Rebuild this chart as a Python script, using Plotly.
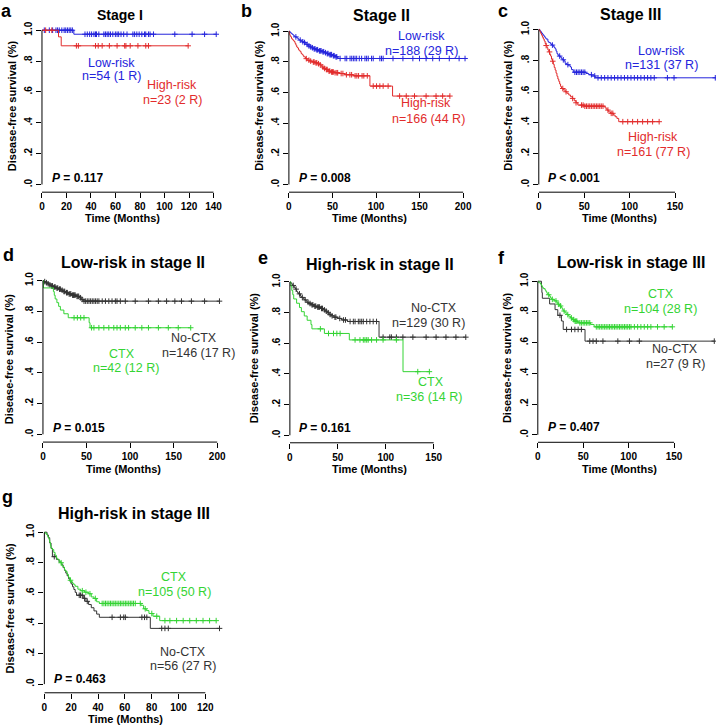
import plotly.graph_objects as go

W, H = 719, 727
BLUE = "#2424dc"
RED = "#e22c2c"
GREEN = "#34d434"
BLACK = "#333333"
FONT = "Liberation Sans, Arial, sans-serif"

# ---------------- data (months, survival) ----------------
# a: Stage I
a_low_t = [26]
a_low_s = [0.974]
a_low_c = [1.9, 6.0, 8.7, 11.4, 12.7, 14.1, 16.2, 18.1, 19.4, 20.8, 22.2, 23.5, 24.8, 35.1, 37.0, 38.9,
           40.5, 42.4, 43.7, 44.5, 46.4, 50.5, 51.8, 53.2, 54.5, 55.9, 57.8, 59.9, 61.3, 62.6, 64.5, 66.7,
           69.4, 74.2, 75.6, 77.4, 79.3, 81.5, 83.7, 84.7, 86.9, 88.2, 91.0, 108.4, 122.5, 132.7, 142.2]
a_high_t = [13.5, 15.7]
a_high_s = [0.957, 0.899]
a_high_c = [3.0, 8.0, 28.1, 29.7, 43.7, 45.9, 49.1, 55.0, 61.3, 67.5, 68.5, 72.0, 78.3, 84.7, 86.9, 119.3]

# b: Stage II
b_low_t = [1, 2, 3, 4, 5, 6, 7, 9, 10, 11, 12, 14, 15, 17, 19, 20, 22, 24, 26, 28, 31, 34, 38, 41, 43,
           46, 50, 53, 56]
b_low_s = [0.995, 0.989, 0.984, 0.979, 0.974, 0.968, 0.963, 0.958, 0.953, 0.947, 0.942, 0.937, 0.931,
           0.926, 0.920, 0.914, 0.904, 0.898, 0.892, 0.885, 0.879, 0.872, 0.866, 0.860, 0.854, 0.847,
           0.840, 0.833, 0.822]
b_low_c = [8, 13, 16, 18, 21, 23, 25, 27, 29, 30, 32, 33, 35, 36, 37, 39, 40, 42, 44, 45, 47, 48, 49, 51,
           52, 54, 55, 58.8, 64.5, 66.4, 70.2, 72.1, 74.0, 75.9, 77.8, 80.8, 83.5, 87.3, 89.2, 91.1, 94.9,
           96.8, 104.4, 106.3, 108.2, 119.5, 130.9, 142.3, 149.9, 157.5, 165.1, 172.7, 184.1, 195.4, 202.2]
b_high_t = [0.5, 1, 1.5, 2, 3, 4, 5, 6, 7, 8, 9, 10, 11, 12, 13, 14, 15, 16, 17, 19, 21, 24, 27, 30, 33,
            35, 37, 38, 40, 42, 45, 48, 52, 58, 64, 74, 93, 119]
b_high_s = [0.988, 0.976, 0.970, 0.964, 0.952, 0.946, 0.939, 0.933, 0.921, 0.909, 0.897, 0.891, 0.879,
            0.873, 0.867, 0.855, 0.849, 0.843, 0.833, 0.821, 0.811, 0.805, 0.799, 0.794, 0.788, 0.781,
            0.775, 0.766, 0.757, 0.750, 0.740, 0.734, 0.729, 0.724, 0.716, 0.709, 0.642, 0.577]
b_high_c = [20, 23, 25, 28, 29, 31, 32, 34, 36, 39, 41, 43, 44, 46, 47, 49, 50, 51, 53, 55, 56, 60, 62,
            66, 70, 72, 76, 78, 80, 84, 86, 90, 96.8, 100.6, 104.4, 108.2, 113.9, 127.1, 134.7, 144.2,
            157.5, 168.9, 176.5, 184.8]

# c: Stage III
c_low_t = [1, 2, 3, 4, 5, 6, 7, 8, 10, 11, 13, 14, 16, 17, 18, 19, 20, 21, 22, 24, 25, 26, 28, 29, 31,
           33, 35, 36, 38, 52, 55, 58, 62]
c_low_s = [0.992, 0.985, 0.977, 0.969, 0.962, 0.954, 0.946, 0.938, 0.923, 0.915, 0.907, 0.899, 0.891,
           0.883, 0.875, 0.860, 0.844, 0.836, 0.828, 0.820, 0.812, 0.804, 0.796, 0.781, 0.773, 0.765,
           0.757, 0.741, 0.724, 0.716, 0.708, 0.700, 0.688]
c_low_c = [15, 23, 27, 32, 39.7, 41.5, 43.3, 45.2, 47.0, 48.8, 50.7, 57.9, 61.6, 65.2, 68.8, 72.5, 76.1,
           79.7, 83.4, 87.0, 90.6, 94.3, 97.9, 101.5, 105.2, 108.8, 112.4, 116.2, 119.8, 123.4, 127.1,
           141.6, 148.9, 194.3]
c_high_t = [1, 2, 3, 4, 5, 6, 7, 8, 9, 10, 11, 12, 13, 14, 15, 16, 17, 18, 19, 20, 21, 22, 23, 24, 25,
            27, 29, 31, 33, 35, 37, 39, 41, 43, 50, 73, 75, 77, 79, 82, 84, 86, 88]
c_high_s = [0.988, 0.975, 0.963, 0.950, 0.938, 0.925, 0.909, 0.896, 0.882, 0.868, 0.855, 0.841, 0.828,
            0.808, 0.795, 0.775, 0.755, 0.738, 0.718, 0.698, 0.680, 0.665, 0.648, 0.632, 0.619, 0.610,
            0.598, 0.588, 0.577, 0.566, 0.555, 0.540, 0.527, 0.512, 0.505, 0.493, 0.480, 0.468, 0.459,
            0.448, 0.437, 0.426, 0.405]
c_high_c = [8.1, 11.8, 15.4, 26.4, 30.0, 37.3, 41, 47.0, 48.8, 50.7, 52.5, 54.3, 56.1, 57.9, 59.8, 61.6,
            63.4, 65.2, 67.1, 68.8, 70.7, 76.1, 79.7, 81.5, 92.5, 97.9, 103.3, 108.8, 114.3, 119.8, 125.3,
            132.5]

# d: Low-risk in stage II
d_no_t = [1, 3, 5, 7, 9, 12, 15, 18, 21, 23, 26, 29, 33, 38, 42, 44, 46]
d_no_s = [0.993, 0.986, 0.979, 0.972, 0.965, 0.958, 0.951, 0.944, 0.937, 0.929, 0.921, 0.913, 0.905,
          0.897, 0.888, 0.877, 0.866]
d_no_c = [2, 4, 6, 8, 10, 11, 13, 14, 16, 17, 19, 20, 22, 24, 25, 27, 28, 30, 31, 32, 34, 35, 36, 37, 39,
          40, 41, 43, 45, 47.1, 49.0, 50.9, 52.8, 54.7, 56.6, 58.5, 60.4, 62.3, 64.2, 68.0, 71.7, 75.6,
          79.3, 83.1, 85.0, 88.8, 94.5, 105.9, 121.1, 132.5, 141.9, 151.4, 159.0, 170.4, 185.5, 202.6]
d_ctx_t = [0.5, 12, 13, 14, 16, 18, 20, 24, 29, 53, 54]
d_ctx_s = [0.952, 0.928, 0.904, 0.880, 0.856, 0.832, 0.808, 0.784, 0.758, 0.726, 0.693]
d_ctx_c = [35.7, 39.5, 43.3, 47.1, 55.8, 58.5, 64.2, 69.9, 75.6, 81.3, 85.0, 88.8, 94.5, 98.3, 105.9,
           113.5, 121.1, 132.5, 143.9, 155.3, 169.6]

# e: High-risk in stage II
e_no_t = [1, 2, 3, 4, 5, 6, 7, 8, 9, 11, 12, 14, 15, 17, 18, 20, 22, 25, 28, 32, 35, 37, 39, 41, 43, 46,
          50, 54, 60, 93]
e_no_s = [0.992, 0.984, 0.977, 0.969, 0.961, 0.953, 0.938, 0.930, 0.922, 0.907, 0.899, 0.891, 0.883,
          0.875, 0.867, 0.859, 0.851, 0.842, 0.836, 0.827, 0.818, 0.809, 0.799, 0.788, 0.779, 0.770,
          0.762, 0.752, 0.742, 0.640]
e_no_c = [3.5, 6.5, 10, 13, 16, 19, 21, 23, 24, 26, 27, 29, 30, 31, 33, 34, 36, 38, 40, 42, 44, 47, 48,
          52, 56, 58, 62.8, 66.2, 68.0, 71.4, 73.1, 74.9, 76.6, 80.1, 83.5, 86.9, 90.4, 97.2, 104.2,
          105.9, 111.1, 117.9, 128.3, 142.1, 152.5, 162.8, 173.2, 183.5]
e_ctx_t = [1, 2, 3, 4, 7, 10, 12, 15, 18, 22, 23, 36, 62, 118]
e_ctx_s = [0.972, 0.944, 0.917, 0.889, 0.861, 0.833, 0.806, 0.778, 0.750, 0.722, 0.694, 0.664, 0.622,
           0.415]
e_ctx_c = [31.8, 40.3, 45.5, 49.0, 52.4, 68.0, 73.1, 76.6, 78.3, 80.1, 81.7, 85.2, 90.4, 97.2, 111.1,
           133.4, 145.5]

# f: Low-risk in stage III
f_ctx_t = [1, 3, 4, 5, 6, 8, 9, 10, 11, 13, 14, 15, 18, 21, 22, 24, 26, 27, 28, 30, 32, 34, 36, 38, 40,
           44, 58, 62]
f_ctx_s = [0.990, 0.981, 0.971, 0.961, 0.952, 0.942, 0.932, 0.922, 0.912, 0.902, 0.892, 0.882, 0.872,
           0.861, 0.850, 0.839, 0.828, 0.817, 0.806, 0.794, 0.783, 0.772, 0.761, 0.750, 0.740, 0.729,
           0.718, 0.703]
f_ctx_c = [12, 16, 20, 23, 25, 29, 33, 37, 39.5, 41, 42, 43, 46.3, 48.0, 49.9, 51.7, 53.5, 55.3, 57.2,
           64.4, 66.3, 68.1, 69.9, 71.7, 73.6, 75.3, 77.2, 79.0, 80.8, 82.6, 84.5, 86.2, 88.1, 90.0, 91.7,
           93.6, 95.4, 97.2, 99.0, 100.9, 102.6, 106.3, 109.9, 113.5, 117.2, 120.9, 124.5, 131.8, 139.1,
           148.1]
f_no_t = [4, 4.5, 5, 13, 19, 22, 26, 28, 52]
f_no_s = [0.963, 0.926, 0.889, 0.852, 0.815, 0.778, 0.741, 0.686, 0.610]
f_no_c = [24.4, 31.7, 37.1, 40.8, 44.4, 48.0, 57.2, 60.8, 64.4, 71.7, 88.1, 100.9, 111.8, 194.3]

# g: High-risk in stage III
g_no_t = [2, 3, 4, 5, 6, 9, 11, 13, 14, 15, 16, 17, 18, 19, 20, 21, 22, 23, 24, 29, 31, 33, 35, 37, 39,
          41, 79]
g_no_s = [0.982, 0.964, 0.929, 0.893, 0.839, 0.821, 0.803, 0.785, 0.767, 0.749, 0.731, 0.713, 0.695,
          0.677, 0.659, 0.641, 0.623, 0.604, 0.585, 0.565, 0.545, 0.524, 0.503, 0.482, 0.461, 0.440,
          0.367]
g_no_c = [7.4, 26, 27, 28.3, 30, 32, 50.5, 56.7, 59.2, 60.4, 72.7, 74.7, 76.4, 87.5, 89.9, 92.4, 130.6]
g_ctx_t = [1, 2, 2.5, 3, 3.5, 4, 4.5, 5, 6, 7, 8, 9, 10, 11, 12, 13, 14, 15, 16, 17, 18, 19, 20, 21, 22,
           23, 25, 27, 30, 33, 35, 37, 39, 41, 72, 74, 76, 78, 81, 86]
g_ctx_s = [0.990, 0.981, 0.971, 0.962, 0.952, 0.933, 0.914, 0.895, 0.886, 0.867, 0.848, 0.829, 0.819,
           0.809, 0.799, 0.780, 0.770, 0.751, 0.741, 0.722, 0.703, 0.684, 0.674, 0.664, 0.654, 0.644,
           0.625, 0.615, 0.605, 0.595, 0.574, 0.564, 0.542, 0.531, 0.519, 0.496, 0.484, 0.465, 0.447,
           0.418]
g_ctx_c = [12.5, 19.5, 28.3, 31, 34, 38, 43.1, 44.4, 45.6, 46.8, 48.1, 49.3, 50.5, 51.8, 52.9, 54.2,
           55.5, 56.7, 57.9, 59.2, 60.4, 61.6, 62.9, 64.1, 65.3, 66.5, 67.8, 71.5, 75.2, 80.1, 83.8, 89.9,
           93.6, 98.6, 103.5, 108.4, 113.3, 118.3, 123.2, 128.1]

# ticks / labels
Y_TICKS = [0, 0.2, 0.4, 0.6, 0.8, 1.0]
Y_TICK_LABELS = [".0", ".2", ".4", ".6", ".8", "1.0"]
a_xticks = [0, 20, 40, 60, 80, 100, 120, 140]
b_xticks = [0, 50, 100, 150, 200]
c_xticks = [0, 50, 100, 150]
d_xticks = [0, 50, 100, 150, 200]
e_xticks = [0, 50, 100, 150]
f_xticks = [0, 50, 100, 150]
g_xticks = [0, 20, 40, 60, 80, 100, 120]
titles = ["Stage I", "Stage II", "Stage III", "Low-risk in stage II", "High-risk in stage II",
          "Low-risk in stage III", "High-risk in stage III"]
pvals = ["= 0.117", "= 0.008", "&lt; 0.001", "= 0.015", "= 0.161", "= 0.407", "= 0.463"]
letters = ["a", "b", "c", "d", "e", "f", "g"]

# ---------------- layout geometry (pixels) ----------------
panels = [
    dict(x0=39.3, sc=1.2357, right=222, y1=28.3, y0=183.0, ax=190.7, ticks=a_xticks, tsize=14,
         letter=(3.7, 8.7), title=(117.7, 13.3), ytitle=(9.3, 104.2), xtitle=(120.5, 216.7), p=(47.7, 176.7),
         curves=[(a_low_t, a_low_s, a_low_c, BLUE), (a_high_t, a_high_s, a_high_c, RED)],
         labels=[("Low-risk", 109.5, 60.7, BLUE), ("n=54 (1 R)", 109.8, 74.5, BLUE),
                 ("High-risk", 170.8, 83.3, RED), ("n=23 (2 R)", 171.2, 98.0, RED)]),
    dict(x0=288.3, sc=0.8785, right=470, y1=29.3, y0=183.0, ax=190.7, ticks=b_xticks, tsize=16,
         letter=(245.8, 8.7), title=(382, 13.3), ytitle=(258.3, 104.0), xtitle=(369.7, 216.7), p=(296.7, 176.7),
         curves=[(b_low_t, b_low_s, b_low_c, BLUE), (b_high_t, b_high_s, b_high_c, RED)],
         labels=[("Low-risk", 422.5, 34.0, BLUE), ("n=188 (29 R)", 422.5, 49.3, BLUE),
                 ("High-risk", 426.7, 101.7, RED), ("n=166 (44 R)", 429.3, 117.3, RED)]),
    dict(x0=540.3, sc=0.916, right=719, y1=27.5, y0=183.0, ax=190.7, ticks=c_xticks, tsize=16,
         letter=(504.2, 8.7), title=(633, 13.0), ytitle=(509.3, 104.0), xtitle=(621.3, 216.7), p=(547.7, 176.7),
         curves=[(c_low_t, c_low_s, c_low_c, BLUE), (c_high_t, c_high_s, c_high_c, RED)],
         labels=[("Low-risk", 664.5, 49.0, BLUE), ("n=131 (37 R)", 664.0, 63.3, BLUE),
                 ("High-risk", 655.8, 135.0, RED), ("n=161 (77 R)", 655.5, 150.0, RED)]),
    dict(x0=40.3, sc=0.8785, right=222, y1=279.3, y0=433.5, ax=441.3, ticks=d_xticks, tsize=16,
         letter=(5.8, 253.7), title=(131.3, 261.7), ytitle=(5.8, 357.5), xtitle=(121.3, 468.3), p=(48.3, 426.7),
         curves=[(d_no_t, d_no_s, d_no_c, BLACK), (d_ctx_t, d_ctx_s, d_ctx_c, GREEN)],
         labels=[("No-CTX", 192.8, 337.3, BLACK), ("n=146 (17 R)", 197.5, 351.7, BLACK),
                 ("CTX", 119.5, 353.3, GREEN), ("n=42 (12 R)", 124.3, 367.3, GREEN)]),
    dict(x0=289.3, sc=0.9667, right=470, y1=280.7, y0=434.5, ax=442.0, ticks=e_xticks, tsize=16,
         letter=(262.5, 257.0), title=(380.3, 263.0), ytitle=(253.3, 357.0), xtitle=(370, 468.3), p=(296.7, 426.7),
         curves=[(e_no_t, e_no_s, e_no_c, BLACK), (e_ctx_t, e_ctx_s, e_ctx_c, GREEN)],
         labels=[("No-CTX", 435.0, 306.7, BLACK), ("n=129 (30 R)", 429.5, 321.7, BLACK),
                 ("CTX", 431.7, 380.7, GREEN), ("n=36 (14 R)", 430.0, 395.7, GREEN)]),
    dict(x0=539.3, sc=0.916, right=719, y1=280.0, y0=434.0, ax=441.5, ticks=f_xticks, tsize=16,
         letter=(502.8, 257.0), title=(633, 261.7), ytitle=(508.3, 357.0), xtitle=(621.3, 468.3), p=(547.7, 426.0),
         curves=[(f_no_t, f_no_s, f_no_c, BLACK), (f_ctx_t, f_ctx_s, f_ctx_c, GREEN)],
         labels=[("CTX", 663.3, 292.7, GREEN), ("n=104 (28 R)", 663.0, 308.3, GREEN),
                 ("No-CTX", 677.5, 348.3, BLACK), ("n=27 (9 R)", 677.8, 362.7, BLACK)]),
    dict(x0=41.7, sc=1.3525, right=222, y1=531.7, y0=684.0, ax=692.7, ticks=g_xticks, tsize=16,
         letter=(4.2, 496.7), title=(131.7, 513.3), ytitle=(6.7, 607.5), xtitle=(123.3, 719.3), p=(49.3, 679.3),
         curves=[(g_no_t, g_no_s, g_no_c, BLACK), (g_ctx_t, g_ctx_s, g_ctx_c, GREEN)],
         labels=[("CTX", 172.0, 576.7, GREEN), ("n=105 (50 R)", 173.0, 591.7, GREEN),
                 ("No-CTX", 181.3, 651.7, BLACK), ("n=56 (27 R)", 181.2, 666.0, BLACK)]),
]


def px(x):
    return x / W


def py(y):
    return 1 - y / H


def surv_at(t, times, survs):
    s = 1.0
    for ti, si in zip(times, survs):
        if ti <= t:
            s = si
        else:
            break
    return s


fig = go.Figure()
annotations = []
shapes = []
layout = {}

for i, p in enumerate(panels, 1):
    xn = "x" if i == 1 else f"x{i}"
    yn = "y" if i == 1 else f"y{i}"
    xk = "xaxis" if i == 1 else f"xaxis{i}"
    yk = "yaxis" if i == 1 else f"yaxis{i}"
    top = p["y1"] - 7
    unit = p["y0"] - p["y1"]
    ybot = -(p["ax"] - p["y0"]) / unit
    ytop = 1 + 7 / unit
    xmax = (p["right"] - p["x0"]) / p["sc"]

    for (t, s, c, col) in p["curves"]:
        end = max(c + t)
        xs = [0] + t + [end]
        ys = [1.0] + s + [s[-1]]
        fig.add_trace(go.Scatter(x=xs, y=ys, mode="lines", line=dict(color=col, width=1, shape="hv"),
                                 xaxis=xn, yaxis=yn, showlegend=False, hoverinfo="skip"))
        cy = [surv_at(ci, t, s) for ci in c]
        fig.add_trace(go.Scatter(x=c, y=cy, mode="markers",
                                 marker=dict(symbol="cross-thin-open", size=4, color=col,
                                             line=dict(color=col, width=1)),
                                 xaxis=xn, yaxis=yn, showlegend=False, hoverinfo="skip"))

    layout[xk] = dict(domain=[px(p["x0"]), px(p["right"])], range=[0, xmax], anchor=yn,
                      showgrid=False, zeroline=False, showline=False, ticks="outside", ticklen=5,
                      tickwidth=1, tickcolor="black", tickvals=p["ticks"],
                      ticktext=[str(v) for v in p["ticks"]],
                      tickfont=dict(family=FONT, size=10, color="black", weight="bold"))
    layout[yk] = dict(domain=[py(p["ax"]), py(top)], range=[ybot, ytop], anchor=xn,
                      showgrid=False, zeroline=False, showline=False, ticks="outside", ticklen=5,
                      tickwidth=1, tickcolor="black", tickvals=Y_TICKS, ticktext=Y_TICK_LABELS,
                      tickangle=-90,
                      tickfont=dict(family=FONT, size=10, color="black", weight="bold"))

    shapes.append(dict(type="line", xref=f"{xn} domain", yref=yn, x0=0, x1=0, y0=0, y1=1,
                       line=dict(color="black", width=1)))
    shapes.append(dict(type="line", xref=xn, yref=f"{yn} domain", x0=0, x1=p["ticks"][-1], y0=0, y1=0,
                       line=dict(color="black", width=1)))

    def ann(text, x, y, size, color="black", weight="normal", xanchor="center", angle=0):
        annotations.append(dict(text=text, x=px(x), y=py(y), xref="paper", yref="paper",
                                xanchor=xanchor, yanchor="middle", showarrow=False, textangle=angle,
                                font=dict(family=FONT, size=size, color=color, weight=weight)))

    ann(letters[i - 1], p["letter"][0], p["letter"][1], 18, weight="bold")
    ann(titles[i - 1], p["title"][0], p["title"][1], p["tsize"], weight="bold")
    ann("Disease-free survival (%)", p["ytitle"][0], p["ytitle"][1], 11, weight="bold", angle=-90)
    ann("Time (Months)", p["xtitle"][0], p["xtitle"][1], 11, weight="bold")
    ann(f"<i>P</i> {pvals[i - 1]}", p["p"][0], p["p"][1], 12, weight="bold", xanchor="left")
    for (txt, lx, ly, col) in p["labels"]:
        ann(txt, lx, ly, 12.5, color=col)

fig.update_layout(width=W, height=H, margin=dict(l=0, r=0, t=0, b=0), paper_bgcolor="white",
                  plot_bgcolor="white", annotations=annotations, shapes=shapes,
                  font=dict(family=FONT), **layout)
fig.write_html("out.html", config={"displayModeBar": False, "staticPlot": True},
               post_script="document.body.style.margin='0';document.body.style.overflow='hidden';"
                           "window.dispatchEvent(new Event('resize'));")
